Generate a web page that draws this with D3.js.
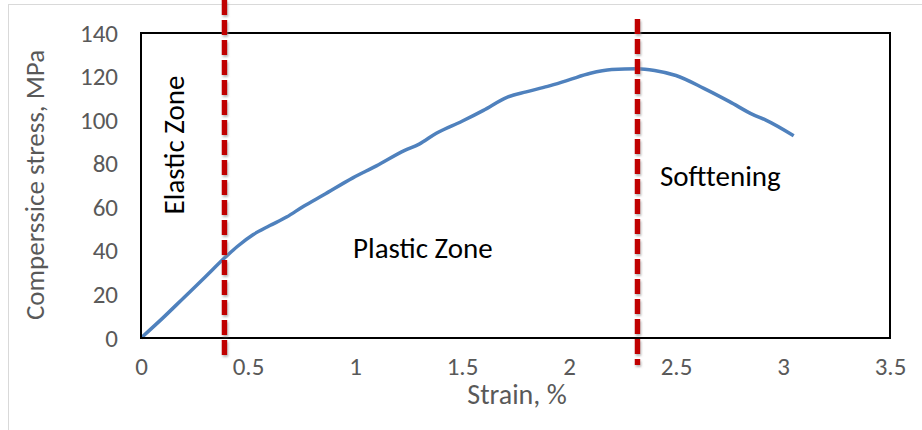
<!DOCTYPE html>
<html>
<head>
<meta charset="utf-8">
<script src="https://cdn.jsdelivr.net/npm/d3@7"></script>
<style>
  body { margin: 0; background: #fff; }
  svg text { font-family: Calibri, Carlito, "Liberation Sans", sans-serif; }
</style>
</head>
<body>
<svg id="chart" width="922" height="430"></svg>
<script>
// stress-strain curve
var strain = [0, 0.1, 0.2, 0.3, 0.39, 0.45, 0.525, 0.6, 0.68, 0.76, 0.85, 0.99, 1.1, 1.23, 1.3, 1.38, 1.5, 1.6, 1.71, 1.8, 1.9, 2.0, 2.1, 2.2, 2.32, 2.4, 2.5, 2.63, 2.75, 2.86, 2.92, 3.05];
var stress = [0, 9, 18.5, 28, 36.7, 42, 47.5, 51.5, 55.5, 60.5, 65.5, 73.5, 79, 86, 89, 94, 99.5, 104.5, 110.5, 113, 115.5, 118.5, 121.5, 123.2, 123.6, 122.8, 120.5, 114.6, 108.5, 102.5, 100, 92.8];
var yTicks = [0, 20, 40, 60, 80, 100, 120, 140];
var xTicks = [0, 0.5, 1, 1.5, 2, 2.5, 3, 3.5];
// zone boundaries (strain, %)
var zoneLines = [0.39, 2.32];

var svg = d3.select("#chart");
var x = d3.scaleLinear().domain([0, 3.5]).range([141, 890]);
var y = d3.scaleLinear().domain([0, 140]).range([338, 33]);

// outer chart border
svg.append("rect").attr("x", 8.5).attr("y", 4.5).attr("width", 930).attr("height", 440)
  .attr("fill", "none").attr("stroke", "#d9d9d9").attr("stroke-width", 1);

// shadow filter for the dashed lines
var defs = svg.append("defs");
var f = defs.append("filter").attr("id", "sh").attr("filterUnits", "userSpaceOnUse")
  .attr("x", 0).attr("y", 0).attr("width", 922).attr("height", 430);
f.append("feDropShadow").attr("dx", 1).attr("dy", 2).attr("stdDeviation", 1.2).attr("flood-color", "#888").attr("flood-opacity", 0.6);

// y axis labels
var yAxis = d3.axisLeft(y).tickValues(yTicks).tickSize(0).tickPadding(0);
svg.append("g").attr("transform", "translate(118,0)").call(yAxis)
  .call(function(g) { g.select(".domain").remove(); })
  .selectAll("text").attr("fill", "#595959").style("font-size", "25px")
  .style("font-family", "Calibri, Carlito, 'Liberation Sans', sans-serif");

// x axis labels
var xAxis = d3.axisBottom(x).tickValues(xTicks).tickSize(0).tickPadding(0).tickFormat(d3.format("~g"));
svg.append("g").attr("transform", "translate(0,357)").call(xAxis)
  .call(function(g) { g.select(".domain").remove(); })
  .selectAll("text").attr("fill", "#595959").style("font-size", "25px")
  .style("font-family", "Calibri, Carlito, 'Liberation Sans', sans-serif");

// axis titles
svg.append("text").attr("x", 517).attr("y", 404).attr("text-anchor", "middle")
  .attr("fill", "#595959").style("font-size", "28px").text("Strain, %");
svg.append("text").attr("transform", "translate(44,185) rotate(-90)").attr("text-anchor", "middle")
  .attr("fill", "#595959").style("font-size", "27px").text("Comperssice stress, MPa");

// data line
var pts = strain.map(function(d, i) { return [d, stress[i]]; });
var line = d3.line().x(function(d) { return x(d[0]); }).y(function(d) { return y(d[1]); }).curve(d3.curveMonotoneX);
svg.append("path").datum(pts).attr("d", line).attr("fill", "none")
  .attr("stroke", "#4f81bd").attr("stroke-width", 3.5).attr("stroke-linejoin", "round");

// plot area box
svg.append("rect").attr("x", x(0)).attr("y", y(140)).attr("width", x(3.5) - x(0)).attr("height", y(0) - y(140))
  .attr("fill", "none").attr("stroke", "#000").attr("stroke-width", 2);

// dashed zone lines
var lineTops = [0, 19];
var lineBots = [355, 365];
svg.selectAll(".zone").data(zoneLines).enter().append("line").attr("class", "zone")
  .attr("x1", function(d) { return x(d); }).attr("x2", function(d) { return x(d); })
  .attr("y1", function(d, i) { return lineTops[i]; }).attr("y2", function(d, i) { return lineBots[i]; })
  .attr("stroke", "#c00000").attr("stroke-width", 5.5).attr("stroke-dasharray", "15,5")
  .attr("filter", "url(#sh)");

// zone labels
svg.append("text").attr("transform", "translate(184,145) rotate(-90)").attr("text-anchor", "middle")
  .attr("fill", "#000").style("font-size", "29px").text("Elastic Zone");
svg.append("text").attr("x", 353).attr("y", 258).attr("fill", "#000").style("font-size", "29px").text("Plastic Zone");
svg.append("text").attr("x", 660).attr("y", 186).attr("fill", "#000").style("font-size", "29px").text("Softtening");
</script>
</body>
</html>
